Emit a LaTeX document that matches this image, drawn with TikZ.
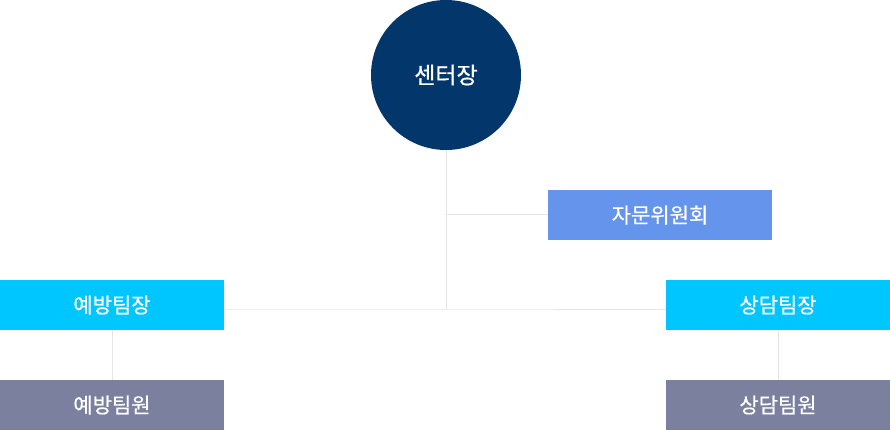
\documentclass[tikz,border=0pt]{standalone}
\usepackage{fontspec}
\setmainfont[FakeBold=0.6]{Noto Sans CJK KR}
\definecolor{navy}{HTML}{03376B}
\definecolor{advblue}{HTML}{6494EC}
\definecolor{cyanbox}{HTML}{00C6FF}
\definecolor{graybox}{HTML}{7A809E}
\definecolor{linegray}{HTML}{E5E5E5}
\begin{document}
\begin{tikzpicture}[x=1pt,y=-1pt,
  boxnode/.style={rectangle,minimum width=224pt,minimum height=50pt,inner sep=0pt,text=white,font=\fontsize{21}{24}\selectfont},
  conn/.style={draw=linegray,line width=1pt}]
\useasboundingbox (0,0) rectangle (890,430);
\node[circle,fill=navy,minimum size=150pt,inner sep=0pt,text=white,font=\fontsize{23}{26}\selectfont] (head) at (446,75) {센터장};
\node[boxnode,fill=advblue] (adv) at (660,215) {자문위원회};
\node[boxnode,fill=cyanbox] (pl) at (112,305) {예방팀장};
\node[boxnode,fill=graybox] (pm) at (112,405) {예방팀원};
\node[boxnode,fill=cyanbox] (cl) at (778,305) {상담팀장};
\node[boxnode,fill=graybox] (cm) at (778,405) {상담팀원};
\coordinate (j1) at (446,309);
\coordinate (j2) at (446,215);
\draw[conn] (head.south) -- (j1);
\draw[conn] (j2) -- (adv.west);
\draw[conn] (pl.east |- j1) -- (j1) -- (cl.west |- j1);
\draw[conn] (pl.south) -- (pm.north);
\draw[conn] (cl.south) -- (cm.north);
\end{tikzpicture}
\end{document}
